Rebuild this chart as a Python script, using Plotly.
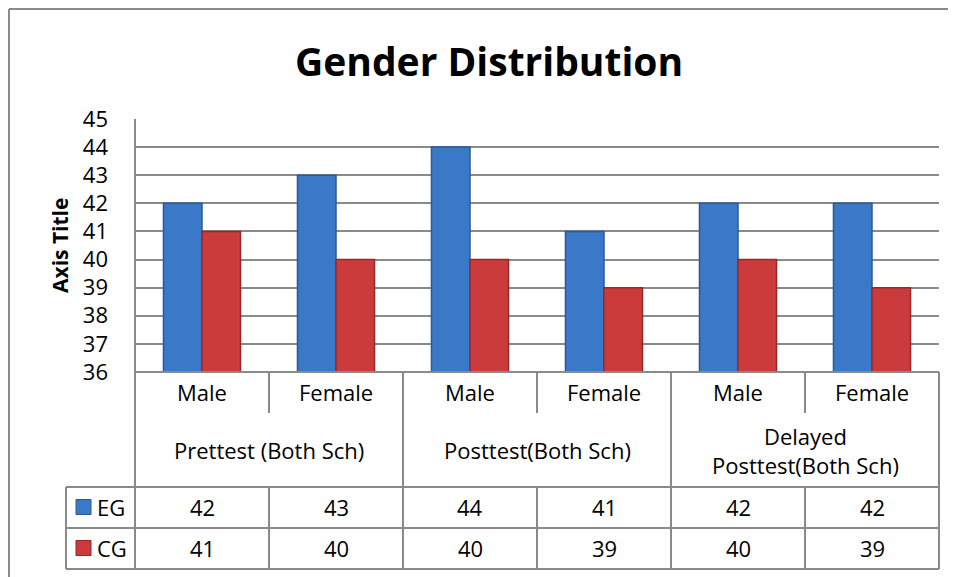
import plotly.graph_objects as go

# ---- data ----
sub_labels = ["Male", "Female", "Male", "Female", "Male", "Female"]
group_labels = ["Prettest (Both Sch)", "Posttest(Both Sch)", "Delayed<br>Posttest(Both Sch)"]
eg_values = [42, 43, 44, 41, 42, 42]
cg_values = [41, 40, 40, 39, 40, 39]
series_names = ["EG", "CG"]
y_ticks = list(range(36, 46))

W, H = 956, 577
OFF = 8  # page body margin
def px(x): return (x - OFF) / W
def py(y): return 1 - (y - OFF) / H

PL, PR, PT, PB = 135, 939, 119, 372
GRID = "#8a8a8a"
FONT = "Open Sans"
BLUE, BLUE_EDGE = "#3a78c8", "#2a5a98"
RED, RED_EDGE = "#cc3b3b", "#962828"

xs = list(range(len(sub_labels)))
fig = go.Figure()
fig.add_trace(go.Bar(x=xs, y=[v - 36 for v in eg_values], base=36, name=series_names[0],
                     marker=dict(color=BLUE, line=dict(color=BLUE_EDGE, width=1.5)), showlegend=False))
fig.add_trace(go.Bar(x=xs, y=[v - 36 for v in cg_values], base=36, name=series_names[1],
                     marker=dict(color=RED, line=dict(color=RED_EDGE, width=1.5)), showlegend=False))

fig.update_layout(
    template="none",
    width=W, height=H, margin=dict(l=0, r=0, t=0, b=0, autoexpand=False),
    paper_bgcolor="white", plot_bgcolor="white",
    barmode="group", bargap=0.425, bargroupgap=0,
    font=dict(family=FONT, color="black"),
    xaxis=dict(domain=[px(PL), px(PR)], range=[-0.5, len(xs) - 0.5], showticklabels=False,
               showgrid=False, zeroline=False, showline=False, ticks="", automargin=False),
    yaxis=dict(domain=[py(PB), py(PT)], range=[36, 45], tickvals=y_ticks,
               tickfont=dict(size=22, family=FONT, color="black"), showgrid=True, gridcolor=GRID,
               gridwidth=2, zeroline=False, ticks="", ticklabelstandoff=26, showline=False,
               automargin=False),
    showlegend=False,
)

shapes = []
def line(x0, y0, x1, y1, w=2):
    shapes.append(dict(type="line", xref="paper", yref="paper", x0=px(x0), y0=py(y0),
                       x1=px(x1), y1=py(y1), line=dict(color=GRID, width=w)))

# outer chart border
line(9, 9, W + 10, 9)
line(9, 9, 9, H + 10)
# plot area left border and baseline
line(PL, PT, PL, 569)
line(PL, PB, PR, PB)
# table
cw = (PR - PL) / len(xs)
for i in range(1, len(xs) + 1):
    xx = PL + i * cw
    if i % 2 == 0:
        line(xx, PB, xx, 569)
    else:
        line(xx, PB, xx, 413)
        line(xx, 487, xx, 569)
line(66, 487, PR, 487)
line(66, 528, PR, 528)
line(66, 569, PR, 569)
line(66, 487, 66, 569)

# legend keys
for yc, col, edge in [(507, BLUE, BLUE_EDGE), (548, RED, RED_EDGE)]:
    shapes.append(dict(type="rect", xref="paper", yref="paper", x0=px(76), x1=px(91),
                       y0=py(yc + 7.5), y1=py(yc - 7.5), fillcolor=col, line=dict(color=edge, width=1)))

ann = []
def text(x, y, s, size=22, bold=False, angle=0, xanchor="center"):
    ann.append(dict(x=px(x), y=py(y), xref="paper", yref="paper", text=f"<b>{s}</b>" if bold else s,
                    showarrow=False, font=dict(size=size, family=FONT, color="black"),
                    xanchor=xanchor, yanchor="middle", textangle=angle))

text(489, 60, "Gender Distribution", size=39, bold=True)
text(60, 246, "Axis Title", size=21, bold=True, angle=-90)
for i, s in enumerate(sub_labels):
    text(PL + (i + 0.5) * cw, 392, s)
for g, s in enumerate(group_labels):
    text(PL + (2 * g + 1) * cw, 450, s)
for i in range(len(xs)):
    text(PL + (i + 0.5) * cw, 507, str(eg_values[i]))
    text(PL + (i + 0.5) * cw, 548, str(cg_values[i]))
text(95, 507, series_names[0], xanchor="left")
text(95, 548, series_names[1], xanchor="left")

fig.update_layout(shapes=shapes, annotations=ann)
fig.write_html("out.html")
